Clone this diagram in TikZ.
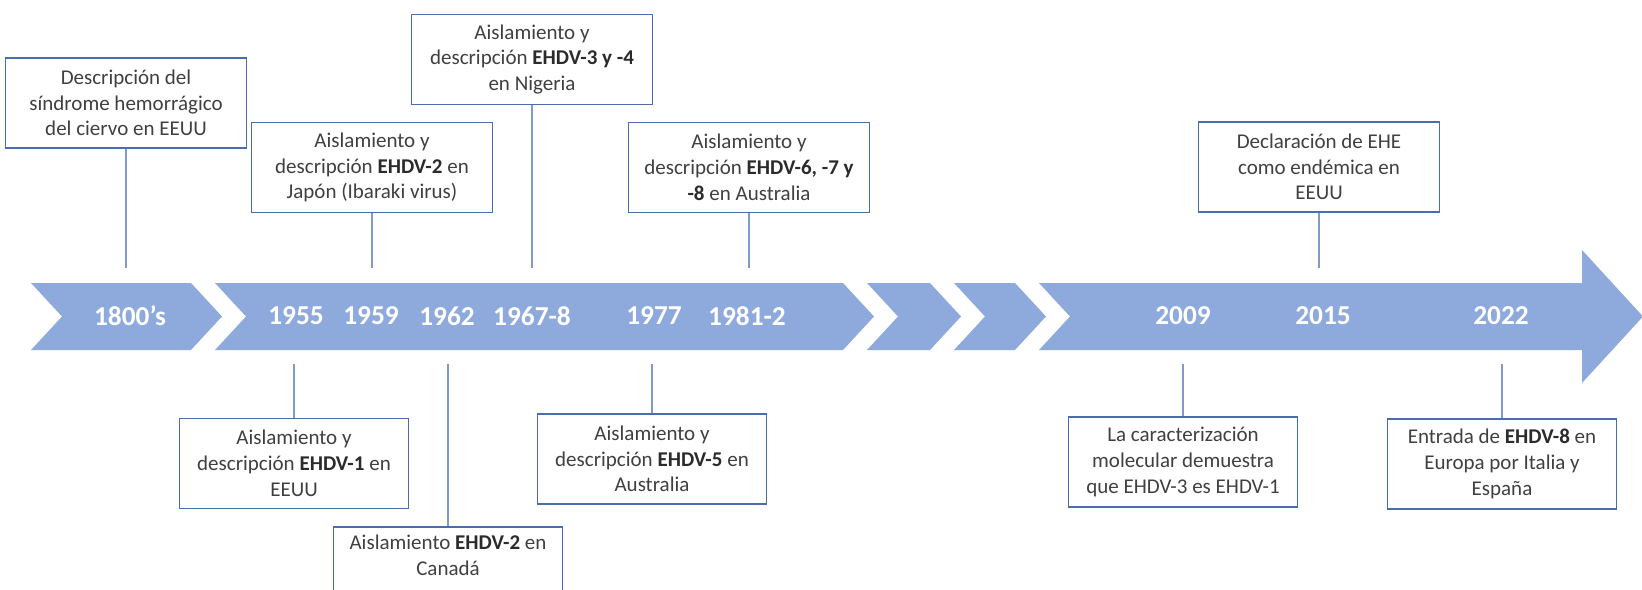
\documentclass[tikz,border=0pt]{standalone}
\usepackage{fontspec}
\setmainfont{Carlito}
\definecolor{band}{HTML}{8EA9DB}
\definecolor{boxline}{HTML}{4A6DAE}
\definecolor{connline}{HTML}{7F9BCB}
\definecolor{txt}{HTML}{404040}
\definecolor{txtb}{HTML}{2B2B2B}
\newcommand{\bh}[1]{{\bfseries\color{txtb}#1}}
\tikzset{
  evbox/.style={draw=boxline, line width=1.4pt, fill=white, align=center,
    text=txt, inner sep=2pt, font=\fontsize{15.75}{19.3}\selectfont},
  topbox/.style={evbox, minimum width=180.75pt, minimum height=67.5pt},
  botbox/.style={evbox, minimum width=171.75pt, minimum height=67.5pt},
  conn/.style={draw=connline, line width=1.1pt},
  year/.style={text=white, font=\fontsize{20.5}{24}\selectfont\bfseries, inner sep=0pt},
  bandshape/.style={fill=band}
}
\begin{document}
\begin{tikzpicture}[x=0.75pt, y=-0.75pt]
\useasboundingbox (0,0) rectangle (1642,589);
\clip (0,0) rectangle (1642,589);
% timeline band
\fill[bandshape] (31,283) -- (191,283) -- (222,316.5) -- (191,350) -- (31,350) -- (62,316.5) -- cycle;
\fill[bandshape] (215,283) -- (843,283) -- (874,316.5) -- (843,350) -- (215,350) -- (246,316.5) -- cycle;
\fill[bandshape] (867,283) -- (930,283) -- (961,316.5) -- (930,350) -- (867,350) -- (898,316.5) -- cycle;
\fill[bandshape] (954,283) -- (1015,283) -- (1046,316.5) -- (1015,350) -- (954,350) -- (985,316.5) -- cycle;
\fill[bandshape] (1039,283) -- (1582,283) -- (1582,250) -- (1643,316.5) -- (1582,383) -- (1582,350) -- (1039,350) -- (1070,316.5) -- cycle;
% years
\node[year] (y1800) at (130,316) {1800’s};
\node[year] (y1955) at (296,316) {1955};
\node[year] (y1959) at (371,316) {1959};
\node[year] (y1962) at (447,316) {1962};
\node[year] (y1967) at (532,316) {1967-8};
\node[year] (y1977) at (654,316) {1977};
\node[year] (y1981) at (747,316) {1981-2};
\node[year] (y2009) at (1183,316) {2009};
\node[year] (y2015) at (1323,316) {2015};
\node[year] (y2022) at (1501,316) {2022};
% top boxes
\node[topbox] (b1800) at (126,103) {Descripción del\\síndrome hemorrágico\\del ciervo en EEUU};
\node[topbox] (b1959) at (372,167.5) {Aislamiento y\\descripción \bh{EHDV-2} en\\Japón (Ibaraki virus)};
\node[topbox] (b1967) at (532,59.5) {Aislamiento y\\descripción \bh{EHDV-3 y -4}\\en Nigeria};
\node[topbox] (b1981) at (749,167.5) {Aislamiento y\\descripción \bh{EHDV-6, -7 y}\\\bh{-8} en Australia};
\node[topbox] (b2015) at (1319,167) {Declaración de EHE\\como endémica en\\EEUU};
% bottom boxes
\node[botbox] (b1955) at (294,463.5) {Aislamiento y\\descripción \bh{EHDV-1} en\\EEUU};
\node[botbox] (b1962) at (448,572) {Aislamiento \bh{EHDV-2} en\\Canadá\\\strut};
\node[botbox] (b1977) at (652,459) {Aislamiento y\\descripción \bh{EHDV-5} en\\Australia};
\node[botbox] (b2009) at (1183,462) {La caracterización\\molecular demuestra\\que EHDV-3 es EHDV-1};
\node[botbox] (b2022) at (1502,464) {Entrada de \bh{EHDV-8} en\\Europa por Italia y\\España};
% connector ends
\coordinate (e1800) at (126,268);
\coordinate (e1959) at (372,268);
\coordinate (e1967) at (532,268);
\coordinate (e1981) at (749,268);
\coordinate (e2015) at (1319,268);
\coordinate (e1955) at (294,364);
\coordinate (e1962) at (448,364);
\coordinate (e1977) at (652,364);
\coordinate (e2009) at (1183,364);
\coordinate (e2022) at (1502,364);
% connectors
\draw[conn] (b1800) -- (e1800);
\draw[conn] (b1959) -- (e1959);
\draw[conn] (b1967) -- (e1967);
\draw[conn] (b1981) -- (e1981);
\draw[conn] (b2015) -- (e2015);
\draw[conn] (b1955) -- (e1955);
\draw[conn] (b1962) -- (e1962);
\draw[conn] (b1977) -- (e1977);
\draw[conn] (b2009) -- (e2009);
\draw[conn] (b2022) -- (e2022);
\end{tikzpicture}
\end{document}
